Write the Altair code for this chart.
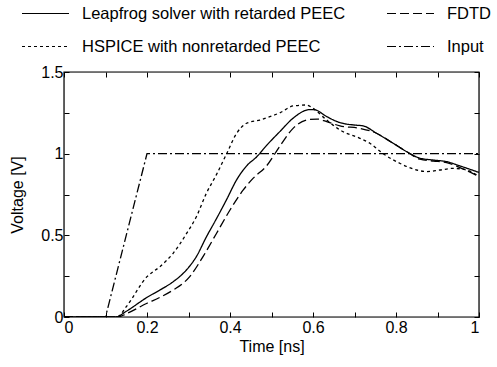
import altair as alt
import pandas as pd

names = ["Leapfrog solver with retarded PEEC", "FDTD", "HSPICE with nonretarded PEEC", "Input"]
dashes = [[1, 0], [9, 4], [3, 3], [9, 3, 2, 3]]

leap_t = [0, 0.125, 0.15, 0.2, 0.231, 0.263, 0.295, 0.319, 0.343, 0.367, 0.392, 0.416, 0.44, 0.464, 0.488,
          0.52, 0.552, 0.592, 0.605, 0.633, 0.665, 0.697, 0.721, 0.753, 0.793, 0.826, 0.858, 0.89, 0.922, 0.954, 1.0]
leap_v = [0, 0, 0.035, 0.12, 0.165, 0.216, 0.288, 0.37, 0.49, 0.60, 0.72, 0.84, 0.925, 0.98, 1.05,
          1.135, 1.217, 1.27, 1.268, 1.227, 1.19, 1.176, 1.17, 1.125, 1.064, 1.012, 0.972, 0.961, 0.951, 0.925, 0.885]

fdtd_t = [0, 0.13, 0.15, 0.2, 0.231, 0.263, 0.303, 0.335, 0.367, 0.4, 0.432, 0.456, 0.488, 0.52, 0.552,
          0.592, 0.61, 0.633, 0.665, 0.713, 0.753, 0.793, 0.826, 0.858, 0.89, 0.922, 0.954, 1.0]
fdtd_v = [0, 0, 0.02, 0.084, 0.12, 0.165, 0.247, 0.37, 0.51, 0.655, 0.778, 0.85, 0.925, 1.045, 1.155,
          1.21, 1.212, 1.196, 1.17, 1.155, 1.125, 1.064, 1.012, 0.966, 0.955, 0.945, 0.915, 0.86]

hsp_t = [0, 0.128, 0.15, 0.2, 0.231, 0.263, 0.295, 0.319, 0.343, 0.367, 0.392, 0.416, 0.44, 0.472, 0.496,
         0.52, 0.552, 0.584, 0.6, 0.633, 0.665, 0.713, 0.737, 0.769, 0.81, 0.85, 0.874, 0.906, 0.938, 0.97, 1.0]
hsp_v = [0, 0, 0.063, 0.247, 0.308, 0.39, 0.51, 0.614, 0.757, 0.87, 1.0, 1.125, 1.186, 1.206, 1.227,
         1.25, 1.292, 1.298, 1.278, 1.206, 1.145, 1.094, 1.064, 1.0, 0.94, 0.90, 0.89, 0.90, 0.91, 0.90, 0.86]

inp_t = [0, 0.1, 0.2, 1.0]
inp_v = [0, 0, 1, 1]

x_ticks = [0, 0.1, 0.2, 0.3, 0.4, 0.5, 0.6, 0.7, 0.8, 0.9, 1.0]
y_ticks = [0, 0.25, 0.5, 0.75, 1.0, 1.25, 1.5]
x_domain = [0, 1]
y_domain = [0, 1.5]


def frame(t, v, name):
    return pd.DataFrame({"t": t, "v": v, "series": name})


df_leap = frame(leap_t, leap_v, names[0])
df_fdtd = frame(fdtd_t, fdtd_v, names[1])
df_hsp = frame(hsp_t, hsp_v, names[2])
df_inp = frame(inp_t, inp_v, names[3])
df_box = pd.DataFrame({"t0": [x_domain[0]], "t1": [x_domain[1]], "v0": [y_domain[0]], "v1": [y_domain[1]]})

FONT = "Liberation Sans"
FS = 16
TS = 5

x_bottom = alt.Axis(values=x_ticks, format=".1~f", orient="bottom", offset=-TS, tickSize=TS,
                    labelExpr="round(datum.value*10) % 2 == 0 ? datum.label : ''",
                    domain=False, grid=False, labelPadding=2, title="Time [ns]", titlePadding=3,
                    labelFontSize=FS, titleFontSize=FS, titleFontWeight="normal",
                    labelColor="black", titleColor="black", tickColor="black")
y_left = alt.Axis(values=y_ticks, format=".1~f", orient="left", offset=-TS, tickSize=TS,
                  labelExpr="round(datum.value*4) % 2 == 0 ? datum.label : ''",
                  domain=False, grid=False, labelPadding=1, title="Voltage [V]", titlePadding=15,
                  labelFontSize=FS, titleFontSize=FS, titleFontWeight="normal",
                  labelColor="black", titleColor="black", tickColor="black")
x_top = alt.Axis(values=x_ticks, orient="top", offset=-TS, tickSize=TS, labels=False,
                 domain=False, grid=False, title=None, tickColor="black")
y_right = alt.Axis(values=y_ticks, orient="right", offset=-TS, tickSize=TS, labels=False,
                   domain=False, grid=False, title=None, tickColor="black")

xs = alt.Scale(domain=x_domain, nice=False, zero=False)
ys = alt.Scale(domain=y_domain, nice=False, zero=False)

dash_scale = alt.Scale(domain=names, range=dashes)
legend = alt.Legend(title=None, orient="none", legendX=-43, legendY=-83, columns=2, direction="horizontal",
                    symbolType="stroke", symbolSize=2209, symbolStrokeColor="black", symbolStrokeWidth=1.1,
                    labelFontSize=16.5, labelFont=FONT, labelColor="black", labelOffset=12,
                    columnPadding=38, rowPadding=-16, labelLimit=400)


def curve(df, interp):
    return alt.Chart(df).mark_line(color="black", strokeWidth=1.3, interpolate=interp, clip=True).encode(
        x=alt.X("t:Q", scale=xs, axis=x_bottom),
        y=alt.Y("v:Q", scale=ys, axis=y_left),
        strokeDash=alt.StrokeDash("series:N", scale=dash_scale, legend=legend, sort=names),
    )


main = alt.layer(
    curve(df_inp, "linear"),
    curve(df_hsp, "monotone"),
    curve(df_fdtd, "monotone"),
    curve(df_leap, "monotone"),
)

box = alt.Chart(df_box).mark_rect(fill=None, stroke="black", strokeWidth=1.2).encode(
    x=alt.X("t0:Q", scale=xs, axis=x_top),
    x2="t1:Q",
    y=alt.Y("v0:Q", scale=ys, axis=y_right),
    y2="v1:Q",
)

chart = alt.layer(main, box).resolve_axis(x="independent", y="independent").properties(
    width=415, height=245,
    autosize=alt.AutoSizeParams(type="none"),
    padding={"left": 64, "top": 72, "right": 18, "bottom": 50},
).configure_view(stroke=None).configure(font=FONT, background="white")

chart.save("out.html", embed_options={"renderer": "svg", "actions": False})
